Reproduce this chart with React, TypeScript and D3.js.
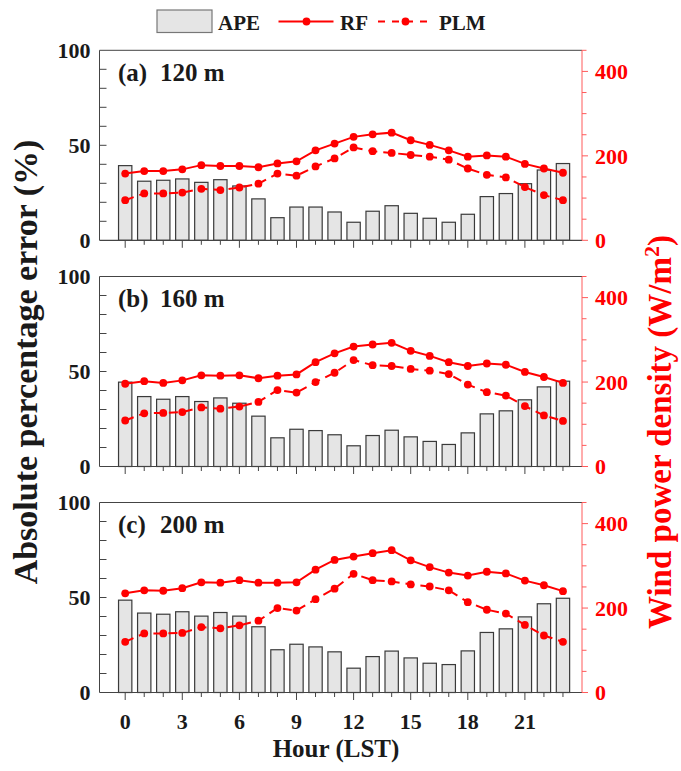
import React from 'react';
import * as d3 from 'd3';

// hours (LST)
const hours = [0, 1, 2, 3, 4, 5, 6, 7, 8, 9, 10, 11, 12, 13, 14, 15, 16, 17, 18, 19, 20, 21, 22, 23];
const hourTicks = [0, 3, 6, 9, 12, 15, 18, 21];
const apeTicks = [0, 50, 100];
const wpdTicks = [0, 200, 400];

const panelLabels = ['(a)', '(b)', '(c)'];
const heights = ['120 m', '160 m', '200 m'];

// absolute percentage error (%)
const ape120 = [39.3, 31.1, 31.6, 32.3, 30.5, 31.9, 28.6, 21.8, 11.9, 17.5, 17.5, 14.9, 9.5, 15.3, 18.2, 14.2, 11.6, 9.5, 13.7, 23.0, 24.6, 29.8, 37.0, 40.4];
const ape160 = [44.4, 36.8, 35.4, 36.8, 34.2, 36.1, 33.3, 26.5, 15.1, 19.6, 18.9, 16.7, 10.9, 16.3, 19.1, 15.6, 13.2, 11.6, 17.7, 27.7, 29.3, 35.1, 41.9, 44.9];
const ape200 = [48.6, 41.8, 41.2, 42.5, 40.2, 42.1, 40.2, 34.6, 22.5, 25.4, 24.0, 21.4, 12.8, 18.9, 21.8, 18.2, 15.4, 14.7, 21.9, 31.6, 33.5, 39.8, 46.7, 49.6];

// wind power density (W/m2)
const rf120 = [158, 164, 164, 168, 178, 176, 176, 173, 182, 187, 213, 229, 245, 251, 255, 237, 226, 213, 198, 201, 198, 181, 170, 160];
const rf160 = [196, 202, 198, 204, 216, 215, 216, 209, 215, 218, 247, 268, 284, 289, 293, 274, 262, 247, 238, 244, 241, 224, 212, 198];
const rf200 = [235, 242, 241, 247, 261, 260, 266, 260, 260, 261, 291, 314, 322, 330, 337, 313, 297, 284, 277, 286, 282, 265, 254, 240];

const plm120 = [95, 111, 111, 113, 122, 119, 125, 134, 158, 153, 175, 194, 220, 211, 207, 202, 198, 191, 170, 155, 149, 126, 107, 95];
const plm160 = [109, 126, 127, 129, 140, 137, 142, 153, 181, 175, 200, 222, 252, 240, 238, 231, 227, 219, 194, 176, 168, 143, 121, 108];
const plm200 = [120, 140, 140, 141, 155, 152, 159, 170, 200, 194, 221, 246, 281, 266, 263, 256, 251, 242, 214, 196, 187, 160, 135, 120];

const apeSets = [ape120, ape160, ape200];
const rfSets = [rf120, rf160, rf200];
const plmSets = [plm120, plm160, plm200];

const W = 681;
const H = 771;
const left = 99.5;
const right = 582;
const panelTops = [50.3, 276.5, 502.5];
const panelH = 190;
const font = '"Liberation Serif", "Times New Roman", serif';
const red = '#ff0000';
const ink = '#1a1a1a';

function Panel({ idx }: { idx: number }) {
  const top = panelTops[idx];
  const bottom = top + panelH;
  const x = d3.scaleLinear().domain([-1.35, 24]).range([left, right]);
  const yL = d3.scaleLinear().domain([0, 100]).range([bottom, top]);
  const yR = d3.scaleLinear().domain([0, 450]).range([bottom, top]);
  const barW = 0.7 * (x(1) - x(0));
  const line = d3.line<number>().x((_, i) => x(hours[i])).y(d => yR(d));
  const ape = apeSets[idx];
  const rf = rfSets[idx];
  const plm = plmSets[idx];

  return (
    <g>
      {ape.map((v, i) => (
        <rect key={i} x={x(hours[i]) - barW / 2} y={yL(v)} width={barW} height={yL(0) - yL(v)}
          fill="#e5e5e5" stroke="#3a3a3a" strokeWidth={1.2} />
      ))}
      <path d={line(plm) || ''} fill="none" stroke={red} strokeWidth={2} strokeDasharray="9,6" />
      <path d={line(rf) || ''} fill="none" stroke={red} strokeWidth={2} />
      {plm.map((v, i) => <circle key={'p' + i} cx={x(hours[i])} cy={yR(v)} r={3.9} fill={red} />)}
      {rf.map((v, i) => <circle key={'r' + i} cx={x(hours[i])} cy={yR(v)} r={3.9} fill={red} />)}

      {/* frame */}
      <line x1={left} x2={right} y1={top} y2={top} stroke="#444" strokeWidth={1} />
      <line x1={left} x2={left} y1={top} y2={bottom} stroke="#444" strokeWidth={1} />
      <line x1={left} x2={right} y1={bottom} y2={bottom} stroke="#444" strokeWidth={1.2} />
      <line x1={right} x2={right} y1={top} y2={bottom} stroke="#ff5a5a" strokeWidth={1} />

      {/* left ticks (inward) */}
      {d3.range(10, 100, 10).map(t => (
        <line key={'lt' + t} x1={left} x2={left + 7} y1={yL(t)} y2={yL(t)} stroke="#444" strokeWidth={1} />
      ))}
      {apeTicks.map(t => (
        <text key={'ll' + t} x={left - 9} y={yL(t)} dy="0.35em" textAnchor="end" fontFamily={font}
          fontWeight="bold" fontSize={22} fill={ink}>{t}</text>
      ))}

      {/* right ticks (outward, red) */}
      {d3.range(0, 451, 50).map(t => (
        <line key={'rt' + t} x1={right} x2={right + (t % 200 === 0 ? 6 : 4.5)} y1={yR(t)} y2={yR(t)}
          stroke="#ff5a5a" strokeWidth={1} />
      ))}
      {wpdTicks.map(t => (
        <text key={'rl' + t} x={right + 13} y={yR(t)} dy="0.35em" fontFamily={font}
          fontWeight="bold" fontSize={22} fill={red}>{t}</text>
      ))}

      {/* bottom ticks (outward) */}
      {hours.map(h => (
        <line key={'bt' + h} x1={x(h)} x2={x(h)} y1={bottom} y2={bottom + (h % 3 === 0 ? 7.5 : 4.5)}
          stroke="#444" strokeWidth={1} />
      ))}

      <text x={118} y={top + 30.5} fontFamily={font} fontWeight="bold" fontSize={25} fill={ink}>
        {panelLabels[idx]}
      </text>
      <text x={160} y={top + 30.5} fontFamily={font} fontWeight="bold" fontSize={25} fill={ink}>
        {heights[idx]}
      </text>
    </g>
  );
}

export default function App() {
  const x = d3.scaleLinear().domain([-1.35, 24]).range([left, right]);
  const lastBottom = panelTops[2] + panelH;
  return (
    <svg width={W} height={H} style={{ position: 'absolute', left: 0, top: 0, background: '#fff' }}>
      <rect x={0} y={0} width={W} height={H} fill="#fff" />

      {/* legend */}
      <g fontFamily={font} fontWeight="bold" fontSize={21} fill={ink}>
        <rect x={157} y={10} width={55} height={22.5} fill="#e5e5e5" stroke="#777" strokeWidth={1.2} />
        <text x={218} y={29.5}>APE</text>
        <line x1={278.5} x2={333.5} y1={21.5} y2={21.5} stroke={red} strokeWidth={2} />
        <circle cx={306.5} cy={21.5} r={3.9} fill={red} />
        <text x={340} y={29.5}>RF</text>
        <line x1={378} x2={433} y1={21.5} y2={21.5} stroke={red} strokeWidth={2} strokeDasharray="7,7" />
        <circle cx={405.5} cy={21.5} r={3.9} fill={red} />
        <text x={439} y={29.5}>PLM</text>
      </g>

      {[0, 1, 2].map(i => <Panel key={i} idx={i} />)}

      {hourTicks.map(h => (
        <text key={h} x={x(h)} y={lastBottom + 36} textAnchor="middle" fontFamily={font}
          fontWeight="bold" fontSize={22} fill={ink}>{h}</text>
      ))}
      <text x={336} y={757} textAnchor="middle" fontFamily={font} fontWeight="bold" fontSize={25} fill={ink}>
        Hour (LST)
      </text>

      <text transform="translate(37,362) rotate(-90)" textAnchor="middle" fontFamily={font}
        fontWeight="bold" fontSize={34} fill={ink}>Absolute percentage error (%)</text>
      <text transform="translate(671,432) rotate(-90)" textAnchor="middle" fontFamily={font}
        fontWeight="bold" fontSize={33} fill={red}>
        Wind power density (W/m<tspan dy={-12} fontSize={22}>2</tspan><tspan dy={12}>)</tspan>
      </text>
    </svg>
  );
}
